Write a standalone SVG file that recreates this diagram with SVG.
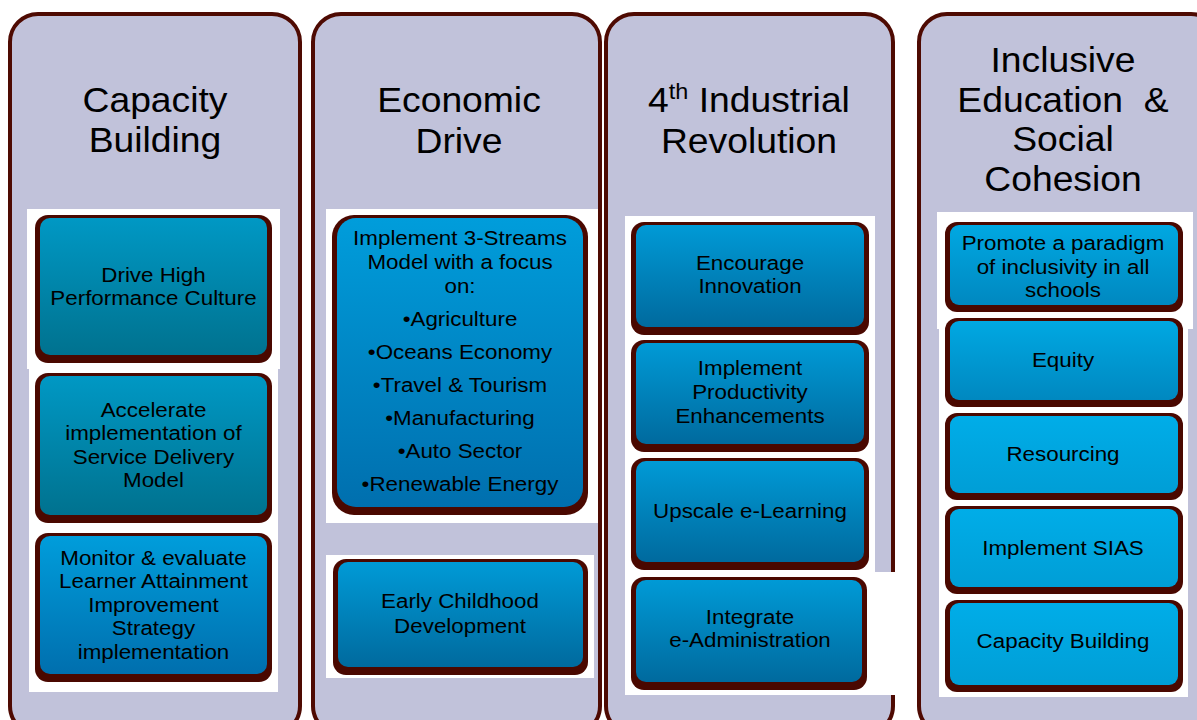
<svg xmlns="http://www.w3.org/2000/svg" width="1197" height="720" viewBox="0 0 1197 720">
  <defs>
    <linearGradient id="gTeal" x1="0" y1="0" x2="0" y2="1">
      <stop offset="0" stop-color="#0098c4"/>
      <stop offset="1" stop-color="#00728f"/>
    </linearGradient>
    <linearGradient id="gBlue" x1="0" y1="0" x2="0" y2="1">
      <stop offset="0" stop-color="#009ddb"/>
      <stop offset="1" stop-color="#006fae"/>
    </linearGradient>
    <linearGradient id="gSteel" x1="0" y1="0" x2="0" y2="1">
      <stop offset="0" stop-color="#009ad6"/>
      <stop offset="1" stop-color="#006a9e"/>
    </linearGradient>
    <linearGradient id="gCyan" x1="0" y1="0" x2="0" y2="1">
      <stop offset="0" stop-color="#00ade8"/>
      <stop offset="1" stop-color="#009ed6"/>
    </linearGradient>
    <linearGradient id="gCyanDeep" x1="0" y1="0" x2="0" y2="1">
      <stop offset="0" stop-color="#00a8e2"/>
      <stop offset="1" stop-color="#0088c0"/>
    </linearGradient>
  </defs>
  <style>
    .col { fill: #c1c2da; stroke: #4e0a02; stroke-width: 4; }
    .pad { fill: #ffffff; }
    .frame { fill: #4a0800; }
    text { font-family: "Liberation Sans", Arial, sans-serif; fill: #000; text-anchor: middle; }
    .title { font-size: 35px; }
    .body { font-size: 21px; }
  </style>

  <rect width="1197" height="720" fill="#ffffff"/>

  <!-- Column 1: Capacity Building -->
  <g id="col-capacity">
    <rect class="col" x="10" y="14" width="290" height="720" rx="28"/>
    <g transform="matrix(1.065 0 0 1 -10.075 0)">
      <text class="title" x="155" y="112">Capacity</text>
      <text class="title" x="155" y="152">Building</text>
    </g>
    <rect class="pad" x="27" y="209" width="253" height="160"/>
    <rect class="pad" x="29" y="368" width="249" height="324"/>
  </g>
  <g id="node-drive-high">
    <rect class="frame" x="35" y="215" width="237" height="148" rx="13"/>
    <rect x="40" y="218" width="227" height="137" rx="10" fill="url(#gTeal)"/>
    <g transform="matrix(1.065 0 0 1 -9.978 0)">
      <text class="body" x="153.5" y="282">Drive High</text>
      <text class="body" x="153.5" y="305">Performance Culture</text>
    </g>
  </g>
  <g id="node-accelerate">
    <rect class="frame" x="35" y="373" width="237" height="150" rx="13"/>
    <rect x="40" y="376" width="227" height="139" rx="10" fill="url(#gTeal)"/>
    <g transform="matrix(1.065 0 0 1 -9.978 0)">
      <text class="body" x="153.5" y="417">Accelerate</text>
      <text class="body" x="153.5" y="440">implementation of</text>
      <text class="body" x="153.5" y="464">Service Delivery</text>
      <text class="body" x="153.5" y="487">Model</text>
    </g>
  </g>
  <g id="node-monitor">
    <rect class="frame" x="35" y="533" width="237" height="149" rx="13"/>
    <rect x="40" y="536" width="227" height="138" rx="10" fill="url(#gBlue)"/>
    <g transform="matrix(1.065 0 0 1 -9.978 0)">
      <text class="body" x="153.5" y="565">Monitor &amp; evaluate</text>
      <text class="body" x="153.5" y="588">Learner Attainment</text>
      <text class="body" x="153.5" y="612">Improvement</text>
      <text class="body" x="153.5" y="635">Strategy</text>
      <text class="body" x="153.5" y="659">implementation</text>
    </g>
  </g>

  <!-- Column 2: Economic Drive -->
  <g id="col-economic">
    <rect class="col" x="313" y="14" width="287" height="720" rx="28"/>
    <g transform="matrix(1.065 0 0 1 -29.835 0)">
      <text class="title" x="459" y="112">Economic</text>
      <text class="title" x="459" y="153">Drive</text>
    </g>
    <rect class="pad" x="326" y="209" width="272" height="314"/>
    <rect class="pad" x="326" y="555" width="268" height="123"/>
  </g>
  <g id="node-three-streams">
    <rect class="frame" x="332" y="215" width="256" height="300" rx="22"/>
    <rect x="337" y="218" width="246" height="289" rx="19" fill="url(#gBlue)"/>
    <g transform="matrix(1.065 0 0 1 -29.9 0)">
      <text class="body" x="460" y="245">Implement 3-Streams</text>
      <text class="body" x="460" y="269">Model with a focus</text>
      <text class="body" x="460" y="293">on:</text>
      <text class="body" x="460" y="326">•Agriculture</text>
      <text class="body" x="460" y="359">•Oceans Economy</text>
      <text class="body" x="460" y="392">•Travel &amp; Tourism</text>
      <text class="body" x="460" y="425">•Manufacturing</text>
      <text class="body" x="460" y="458">•Auto Sector</text>
      <text class="body" x="460" y="491">•Renewable Energy</text>
    </g>
  </g>
  <g id="node-ecd">
    <rect class="frame" x="333" y="559" width="255" height="116" rx="13"/>
    <rect x="338" y="562" width="245" height="105" rx="10" fill="url(#gSteel)"/>
    <g transform="matrix(1.065 0 0 1 -29.9 0)">
      <text class="body" x="460" y="608">Early Childhood</text>
      <text class="body" x="460" y="633">Development</text>
    </g>
  </g>

  <!-- Column 3: 4th Industrial Revolution -->
  <g id="col-4ir">
    <rect class="col" x="606" y="14" width="287" height="720" rx="28"/>
    <g transform="matrix(1.065 0 0 1 -48.685 0)">
      <text class="title" x="749" y="112">4<tspan font-size="22" dy="-13">th</tspan><tspan dy="13"> Industrial</tspan></text>
      <text class="title" x="749" y="153">Revolution</text>
    </g>
    <rect class="pad" x="625" y="216" width="250" height="357"/>
    <rect class="pad" x="625" y="572" width="273" height="123"/>
  </g>
  <g id="node-innovation">
    <rect class="frame" x="631" y="222" width="238" height="113" rx="13"/>
    <rect x="636" y="225" width="228" height="102" rx="10" fill="url(#gSteel)"/>
    <g transform="matrix(1.065 0 0 1 -48.75 0)">
      <text class="body" x="750" y="270">Encourage</text>
      <text class="body" x="750" y="293">Innovation</text>
    </g>
  </g>
  <g id="node-productivity">
    <rect class="frame" x="631" y="340" width="238" height="112" rx="13"/>
    <rect x="636" y="343" width="228" height="101" rx="10" fill="url(#gSteel)"/>
    <g transform="matrix(1.065 0 0 1 -48.75 0)">
      <text class="body" x="750" y="375">Implement</text>
      <text class="body" x="750" y="399">Productivity</text>
      <text class="body" x="750" y="423">Enhancements</text>
    </g>
  </g>
  <g id="node-elearning">
    <rect class="frame" x="631" y="458" width="238" height="112" rx="13"/>
    <rect x="636" y="461" width="228" height="101" rx="10" fill="url(#gSteel)"/>
    <g transform="matrix(1.065 0 0 1 -48.75 0)">
      <text class="body" x="750" y="518">Upscale e-Learning</text>
    </g>
  </g>
  <g id="node-eadmin">
    <rect class="frame" x="631" y="577" width="236" height="113" rx="13"/>
    <rect x="636" y="580" width="226" height="102" rx="10" fill="url(#gSteel)"/>
    <g transform="matrix(1.065 0 0 1 -48.75 0)">
      <text class="body" x="750" y="624">Integrate</text>
      <text class="body" x="750" y="647">e-Administration</text>
    </g>
  </g>

  <!-- Column 4: Inclusive Education & Social Cohesion -->
  <g id="col-inclusive">
    <rect class="col" x="919" y="14" width="300" height="720" rx="28"/>
    <g transform="matrix(1.065 0 0 1 -69.095 0)">
      <text class="title" x="1063" y="72">Inclusive</text>
      <text class="title" x="1063" y="112" style="white-space:pre">Education  &amp;</text>
      <text class="title" x="1063" y="151">Social</text>
      <text class="title" x="1063" y="191">Cohesion</text>
    </g>
    <rect class="pad" x="937" y="212" width="256" height="117"/>
    <rect class="pad" x="939" y="328" width="249" height="369"/>
  </g>
  <g id="node-paradigm">
    <rect class="frame" x="945" y="222" width="238" height="90" rx="12"/>
    <rect x="950" y="225" width="228" height="80" rx="9" fill="url(#gCyanDeep)"/>
    <g transform="matrix(1.065 0 0 1 -69.095 0)">
      <text class="body" x="1063" y="250">Promote a paradigm</text>
      <text class="body" x="1063" y="274">of inclusivity in all</text>
      <text class="body" x="1063" y="297">schools</text>
    </g>
  </g>
  <g id="node-equity">
    <rect class="frame" x="945" y="318" width="238" height="89" rx="12"/>
    <rect x="950" y="321" width="228" height="79" rx="9" fill="url(#gCyanDeep)"/>
    <g transform="matrix(1.065 0 0 1 -69.095 0)">
      <text class="body" x="1063" y="367">Equity</text>
    </g>
  </g>
  <g id="node-resourcing">
    <rect class="frame" x="945" y="413" width="238" height="87" rx="12"/>
    <rect x="950" y="416" width="228" height="77" rx="9" fill="url(#gCyan)"/>
    <g transform="matrix(1.065 0 0 1 -69.095 0)">
      <text class="body" x="1063" y="461">Resourcing</text>
    </g>
  </g>
  <g id="node-sias">
    <rect class="frame" x="945" y="506" width="238" height="88" rx="12"/>
    <rect x="950" y="509" width="228" height="78" rx="9" fill="url(#gCyan)"/>
    <g transform="matrix(1.065 0 0 1 -69.095 0)">
      <text class="body" x="1063" y="555">Implement SIAS</text>
    </g>
  </g>
  <g id="node-capacity-building">
    <rect class="frame" x="945" y="600" width="238" height="92" rx="12"/>
    <rect x="950" y="603" width="228" height="82" rx="9" fill="url(#gCyan)"/>
    <g transform="matrix(1.065 0 0 1 -69.095 0)">
      <text class="body" x="1063" y="648">Capacity Building</text>
    </g>
  </g>
</svg>
